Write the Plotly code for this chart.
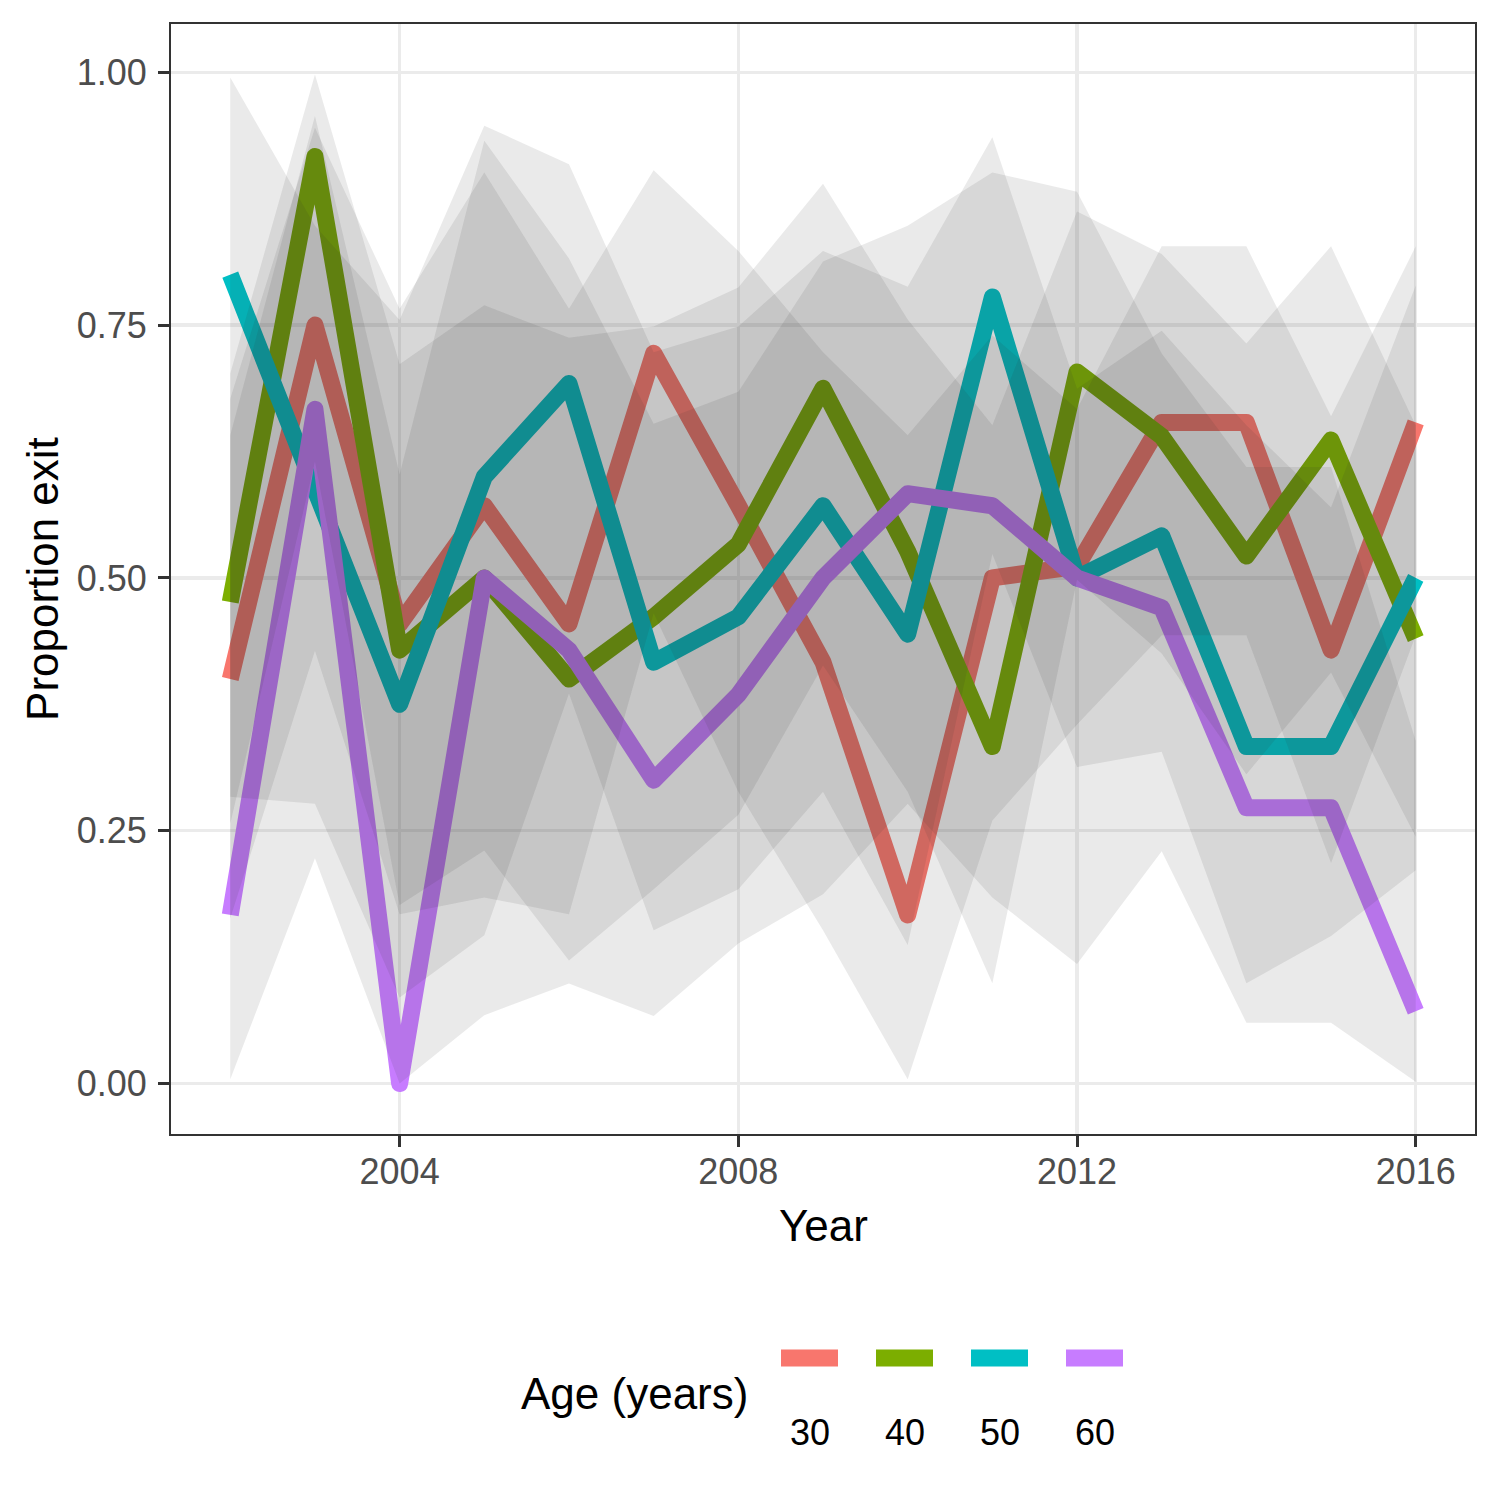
import plotly.graph_objects as go

# ---------------- data ----------------
years = list(range(2002, 2017))
age_groups = ["30", "40", "50", "60"]
colors = ["#F8766D", "#7CAE00", "#00BFC4", "#C77CFF"]

exit_30 = [0.4000, 0.7500, 0.4545, 0.5714, 0.4545, 0.7222, 0.5714, 0.4167, 0.1667, 0.5000, 0.5116, 0.6538, 0.6538, 0.4286, 0.6538]
lo_30 = [0.1634, 0.4281, 0.1675, 0.1841, 0.1675, 0.4652, 0.2886, 0.1517, 0.0042, 0.2602, 0.3550, 0.4434, 0.4434, 0.2182, 0.4434]
hi_30 = [0.6771, 0.9451, 0.7662, 0.9010, 0.7662, 0.9031, 0.8234, 0.7233, 0.6412, 0.7398, 0.6670, 0.8279, 0.8279, 0.6598, 0.8279]

exit_40 = [0.4762, 0.9167, 0.4286, 0.5000, 0.4000, 0.4615, 0.5333, 0.6875, 0.5263, 0.3333, 0.7037, 0.6400, 0.5217, 0.6364, 0.4400]
lo_40 = [0.2571, 0.6152, 0.1766, 0.2304, 0.1216, 0.1922, 0.2659, 0.4134, 0.2886, 0.0992, 0.4982, 0.4252, 0.3059, 0.4066, 0.2440]
hi_40 = [0.7022, 0.9979, 0.7114, 0.7696, 0.7376, 0.7487, 0.7873, 0.8898, 0.7555, 0.6511, 0.8625, 0.8203, 0.7319, 0.8280, 0.6507]

exit_50 = [0.8000, 0.5833, 0.3750, 0.6000, 0.6923, 0.4167, 0.4615, 0.5714, 0.4444, 0.7778, 0.5000, 0.5417, 0.3333, 0.3333, 0.5000]
lo_50 = [0.2836, 0.2767, 0.0852, 0.1466, 0.3857, 0.1517, 0.1922, 0.2886, 0.1370, 0.5236, 0.3130, 0.3282, 0.0992, 0.1459, 0.2109]
hi_50 = [0.9949, 0.8483, 0.7551, 0.9473, 0.9091, 0.7233, 0.7487, 0.8234, 0.7880, 0.9359, 0.6870, 0.7445, 0.6511, 0.5697, 0.7891]

exit_60 = [0.1667, 0.6667, 0.0000, 0.5000, 0.4286, 0.3000, 0.3846, 0.5000, 0.5833, 0.5714, 0.5000, 0.4706, 0.2727, 0.2727, 0.0714]
lo_60 = [0.0042, 0.2228, 0.0000, 0.0676, 0.0990, 0.0667, 0.1386, 0.1871, 0.2767, 0.1841, 0.1181, 0.2298, 0.0602, 0.0602, 0.0018]
hi_60 = [0.6412, 0.9567, 0.6024, 0.9324, 0.8159, 0.6525, 0.6842, 0.8129, 0.8483, 0.9010, 0.8819, 0.7219, 0.6097, 0.6097, 0.3387]

x_ticks = [2004, 2008, 2012, 2016]
y_ticks = [0.0, 0.25, 0.5, 0.75, 1.0]
y_tick_labels = ["0.00", "0.25", "0.50", "0.75", "1.00"]

series = [exit_30, exit_40, exit_50, exit_60]
lowers = [lo_30, lo_40, lo_50, lo_60]
uppers = [hi_30, hi_40, hi_50, hi_60]

FONT = "Liberation Sans, Arial, Helvetica, sans-serif"

fig = go.Figure()

# lines first (ribbons are drawn over them, as in the source)
for name, vals, col in zip(age_groups, series, colors):
    fig.add_trace(go.Scatter(
        x=years, y=vals, mode="lines", name=name,
        line=dict(color=col, width=17), showlegend=False,
    ))

# confidence ribbons
for name, lo, hi in zip(age_groups, lowers, uppers):
    fig.add_trace(go.Scatter(
        x=years + years[::-1], y=hi + lo[::-1],
        mode="lines", fill="toself", fillcolor="rgba(51,51,51,0.1)",
        line=dict(width=0, color="rgba(0,0,0,0)"),
        showlegend=False, hoverinfo="skip", name=name + " CI",
    ))

axis_common = dict(
    showgrid=True, gridcolor="#EBEBEB", gridwidth=3.5,
    zeroline=False,
    showline=True, linecolor="#333333", linewidth=2, mirror=True,
    ticks="outside", ticklen=11, tickwidth=3, tickcolor="#333333",
    tickfont=dict(family=FONT, size=36, color="#4D4D4D"),
)

fig.update_xaxes(range=[2001.3, 2016.7], tickvals=x_ticks,
                 ticktext=[str(v) for v in x_ticks], ticklabelstandoff=-6,
                 **axis_common)
fig.update_yaxes(range=[-0.0499, 1.0478], tickvals=y_ticks,
                 ticktext=y_tick_labels, ticklabelstandoff=4,
                 **axis_common)

annotations = [
    dict(text="Year", x=0.5, y=-0.082, xref="paper", yref="paper",
         xanchor="center", yanchor="middle", showarrow=False,
         font=dict(family=FONT, size=44, color="black")),
    dict(text="Proportion exit", x=-0.099, y=0.5, xref="paper", yref="paper",
         xanchor="center", yanchor="middle", textangle=-90, showarrow=False,
         font=dict(family=FONT, size=44, color="black")),
    dict(text="Age (years)", x=(634 - 171) / 1304, y=(1134 - 1393) / 1110,
         xref="paper", yref="paper", xanchor="center", yanchor="middle",
         showarrow=False, font=dict(family=FONT, size=44, color="black")),
]

# manual legend (keys above labels, as in the source)
shapes = []
key_centers_px = [809.5, 904.5, 999.5, 1094.5]
for name, col, cx in zip(age_groups, colors, key_centers_px):
    x0 = (cx - 28.5 - 171) / 1304
    x1 = (cx + 28.5 - 171) / 1304
    yk = (1134 - 1358) / 1110
    shapes.append(dict(type="line", xref="paper", yref="paper",
                       x0=x0, x1=x1, y0=yk, y1=yk,
                       line=dict(color=col, width=17)))
    annotations.append(dict(text=name, x=(cx - 171) / 1304, y=(1134 - 1432) / 1110,
                            xref="paper", yref="paper", xanchor="center",
                            yanchor="middle", showarrow=False,
                            font=dict(family=FONT, size=36, color="black")))

fig.update_layout(
    width=1500, height=1500,
    margin=dict(l=171, r=25, t=24, b=366),
    paper_bgcolor="white", plot_bgcolor="white",
    annotations=annotations, shapes=shapes,
    showlegend=False,
    font=dict(family=FONT),
)

post = """
(function(){
  document.body.style.margin = '0';
  document.body.style.padding = '0';
  function fix(){
    document.querySelectorAll('.scatterlayer path.js-line').forEach(function(p){
      p.style.strokeLinejoin = 'round';
    });
  }
  fix();
  setTimeout(fix, 200);
  setTimeout(fix, 800);
  var gd = document.getElementById('{plot_id}');
  if (gd && gd.on) { gd.on('plotly_afterplot', fix); }
})();
"""

fig.write_html("out.html", post_script=post,
               config={"displayModeBar": False, "staticPlot": True})
